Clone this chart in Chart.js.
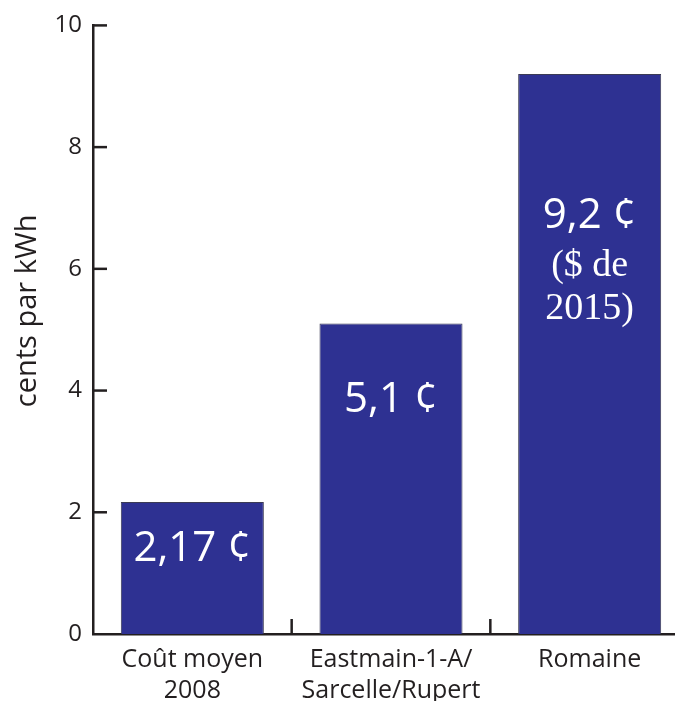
<!DOCTYPE html>
<html>
<head>
<meta charset="utf-8">
<script src="https://cdn.jsdelivr.net/npm/chart.js@4.4.1/dist/chart.umd.min.js"></script>
<style>
html, body { margin: 0; padding: 0; background: #ffffff; overflow: hidden; }
#wrap { width: 700px; height: 701px; }
</style>
</head>
<body>
<div id="wrap"><canvas id="c" width="700" height="701"></canvas></div>
<script>
const categories = [["Coût moyen", "2008"], ["Eastmain-1-A/", "Sarcelle/Rupert"], ["Romaine"]];
const costs = [2.17, 5.1, 9.2];
const yTicks = [0, 2, 4, 6, 8, 10];
const yTitle = "cents par kWh";
const barLabelMain = ["2,17 ¢", "5,1 ¢", "9,2 ¢"];
const barLabelNote = [[], [], ["($ de", "2015)"]];
const barLabelAt = [1.40, 3.84, 6.87];

const BAR_BLUE = '#2E3192';
const SANS = '"Open Sans", "Noto Sans", sans-serif';
const SERIF = '"Liberation Serif", "DejaVu Serif", serif';

const innerTicks = {
  id: 'innerTicks',
  afterDatasetsDraw(chart) {
    const ctx = chart.ctx;
    const x = chart.scales.x, y = chart.scales.y;
    ctx.save();
    ctx.strokeStyle = '#231f20';
    ctx.lineWidth = 2.5;
    y.ticks.forEach(t => {
      if (t.value === 0) return;
      const py = y.getPixelForValue(t.value);
      ctx.beginPath();
      ctx.moveTo(x.left, py);
      ctx.lineTo(x.left + 14, py);
      ctx.stroke();
    });
    for (let i = 0; i < categories.length - 1; i++) {
      const px = (x.getPixelForValue(i) + x.getPixelForValue(i + 1)) / 2;
      ctx.beginPath();
      ctx.moveTo(px, y.bottom);
      ctx.lineTo(px, y.bottom - 15);
      ctx.stroke();
    }
    ctx.fillStyle = '#ffffff';
    ctx.textAlign = 'center';
    ctx.textBaseline = 'middle';
    const meta = chart.getDatasetMeta(0);
    meta.data.forEach((bar, i) => {
      const cy = y.getPixelForValue(barLabelAt[i]);
      ctx.font = '42px ' + SANS;
      ctx.fillText(barLabelMain[i], bar.x, cy);
      ctx.font = '38px ' + SERIF;
      barLabelNote[i].forEach((line, j) => {
        ctx.fillText(line, bar.x, cy + 50 + j * 43);
      });
    });
    ctx.restore();
  }
};

new Chart(document.getElementById('c'), {
  type: 'bar',
  data: {
    labels: categories,
    datasets: [{
      data: costs,
      backgroundColor: BAR_BLUE,
      borderColor: '#3b3b55',
      borderWidth: 1,
      barPercentage: 0.72,
      categoryPercentage: 1.0
    }]
  },
  options: {
    responsive: false,
    animation: false,
    layout: { padding: { top: 24, right: 11, left: 0, bottom: 0 } },
    plugins: { legend: { display: false }, tooltip: { enabled: false } },
    scales: {
      x: {
        grid: { display: false, drawTicks: false },
        border: { display: true, color: '#231f20', width: 2.5 },
        ticks: {
          color: '#231f20',
          font: { family: SANS, size: 25, lineHeight: 1.24 },
          padding: 10,
          maxRotation: 0,
          autoSkip: false
        },
        afterFit(s) { s.height = 67; }
      },
      y: {
        min: 0, max: 10,
        afterBuildTicks(s) { s.ticks = yTicks.map(v => ({ value: v })); },
        grid: { display: false, drawTicks: false },
        border: { display: true, color: '#231f20', width: 2.5 },
        ticks: {
          color: '#231f20',
          font: { family: SANS, size: 24 },
          padding: 11
        },
        title: {
          display: true,
          text: '\u00a0\u00a0\u00a0\u00a0\u00a0' + yTitle,
          color: '#231f20',
          font: { family: SANS, size: 29 },
          padding: { top: 10, bottom: 0 }
        },
        afterFit(s) { s.width = 93; }
      }
    }
  },
  plugins: [innerTicks]
});
</script>
</body>
</html>
